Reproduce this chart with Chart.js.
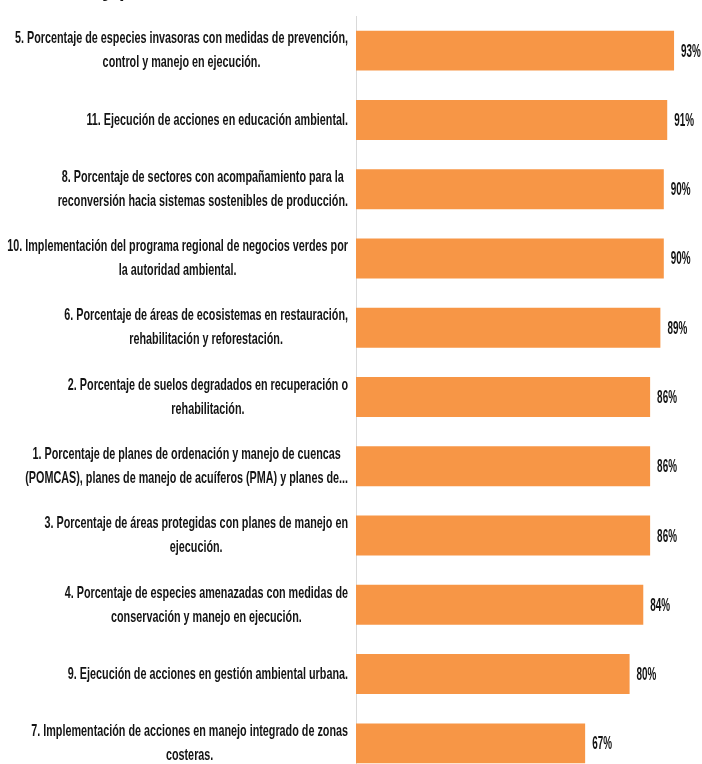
<!DOCTYPE html>
<html>
<head>
<meta charset="utf-8">
<script src="https://cdn.jsdelivr.net/npm/chart.js@4"></script>
<style>
  html, body { margin: 0; padding: 0; background: #fff; overflow: hidden; }
  #wrap { position: relative; width: 702px; height: 764px; overflow: hidden; }
  #grafico { position: absolute; left: 0; top: -40px; }
</style>
</head>
<body>
<div id="wrap"><canvas id="grafico" width="702" height="830"></canvas></div>
<script>
const titulo = "Ambiental y planificación del desarrollo sostenible";

const categorias = [
  ["5. Porcentaje de especies invasoras con medidas de prevención,", "control y manejo en ejecución."],
  ["11. Ejecución de acciones en educación ambiental."],
  ["8. Porcentaje de sectores con acompañamiento para la", "reconversión hacia sistemas sostenibles de producción."],
  ["10. Implementación del programa regional de negocios verdes por", "la autoridad ambiental."],
  ["6. Porcentaje de áreas de ecosistemas en restauración,", "rehabilitación y reforestación."],
  ["2. Porcentaje de suelos degradados en recuperación o", "rehabilitación."],
  ["1. Porcentaje de planes de ordenación y manejo de cuencas", "(POMCAS), planes de manejo de acuíferos (PMA) y planes de..."],
  ["3. Porcentaje de áreas protegidas con planes de manejo en", "ejecución."],
  ["4. Porcentaje de especies amenazadas con medidas de", "conservación y manejo en ejecución."],
  ["9. Ejecución de acciones en gestión ambiental urbana."],
  ["7. Implementación de acciones en manejo integrado de zonas", "costeras."]
];

const avance = [93, 91, 90, 90, 89, 86, 86, 86, 84, 80, 67];

const fonte = "'Liberation Sans', Arial, sans-serif";
const corTexto = "#141414";

// rotulos do eixo (bloco alinhado a direita, linhas centradas) e valores das barras
const rotulos = {
  id: "rotulos",
  afterDraw(chart) {
    const ctx = chart.ctx;
    const eixoY = chart.scales.y;
    const barras = chart.getDatasetMeta(0).data;
    ctx.save();
    ctx.fillStyle = corTexto;
    ctx.textBaseline = "middle";
    ctx.font = "bold 17px " + fonte;
    // texto estreito: aperta na horizontal
    const aperto = 0.635;
    const direita = eixoY.right - 8;
    categorias.forEach((linhas, i) => {
      const yc = eixoY.getPixelForValue(i);
      const larg = Math.max(...linhas.map((l) => ctx.measureText(l).width)) * aperto;
      const cx = direita - larg / 2;
      linhas.forEach((l, j) => {
        ctx.save();
        ctx.translate(cx, yc + (j - (linhas.length - 1) / 2) * 24);
        ctx.scale(aperto, 1);
        ctx.textAlign = "center";
        ctx.fillText(l, 0, 0);
        ctx.restore();
      });
    });
    ctx.font = "bold 18px " + fonte;
    barras.forEach((b, i) => {
      ctx.save();
      ctx.translate(b.x + 7, b.y + 1);
      ctx.scale(0.55, 1);
      ctx.textAlign = "left";
      ctx.fillText(avance[i] + "%", 0, 0);
      ctx.restore();
    });
    ctx.restore();
  }
};

const ctx = document.getElementById("grafico");
new Chart(ctx, {
  type: "bar",
  data: {
    labels: categorias,
    datasets: [
      {
        data: avance,
        backgroundColor: "#F79646",
        borderWidth: 0,
        barPercentage: 0.577,
        categoryPercentage: 1,
      },
    ],
  },
  options: {
    indexAxis: "y",
    responsive: false,
    animation: false,
    layout: { padding: { left: 0, right: 4, top: 0, bottom: 12 } },
    plugins: {
      legend: { display: false },
      tooltip: { enabled: false },
      title: {
        display: true,
        text: titulo,
        align: "start",
        color: corTexto,
        font: { family: fonte, size: 20, weight: "bold" },
        padding: { top: 19, bottom: 13 },
      },
    },
    scales: {
      x: { display: false, min: 0, max: 100 },
      y: {
        ticks: { display: false },
        grid: { display: false },
        border: { display: true, color: "#d9d9d9" },
        afterFit(escala) {
          escala.width = 356;
        },
      },
    },
  },
  plugins: [rotulos],
});
</script>
</body>
</html>
